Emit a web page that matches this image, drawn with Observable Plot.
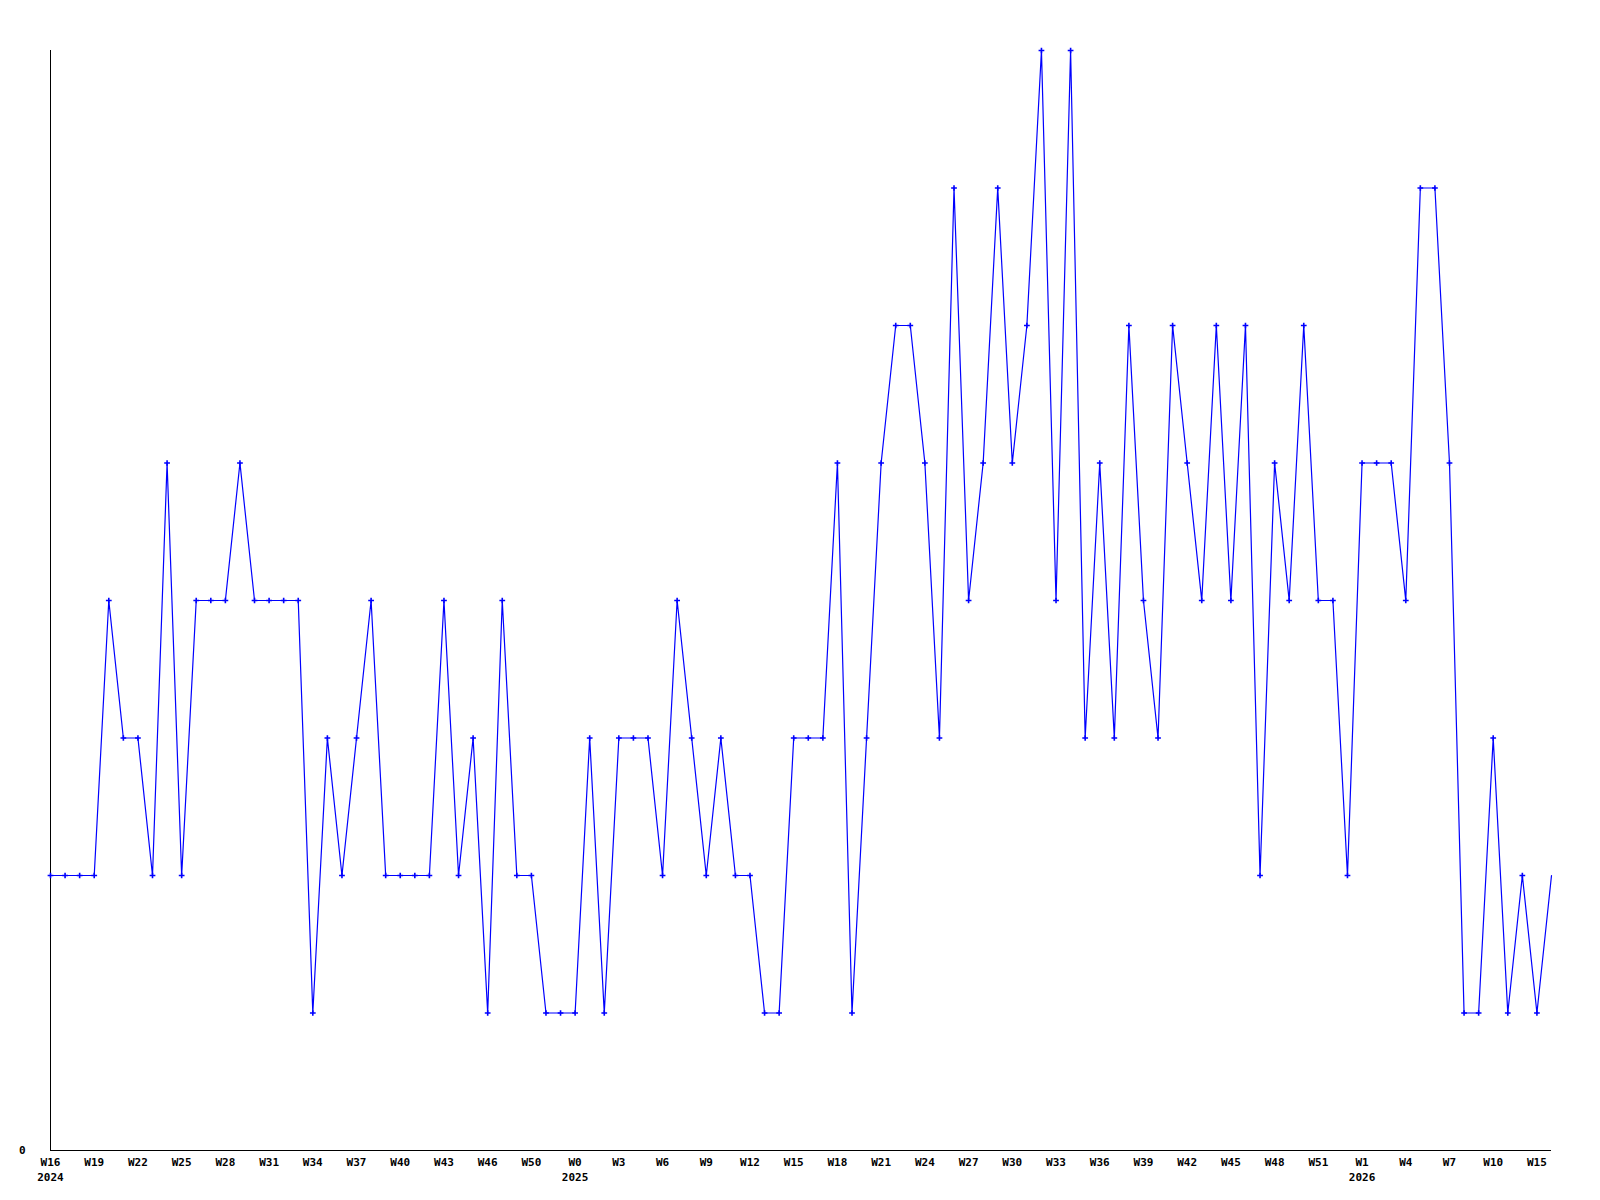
<!DOCTYPE html>
<html>
<head>
<meta charset="utf-8">
<script src="https://cdn.jsdelivr.net/npm/d3@7"></script>
<script src="https://cdn.jsdelivr.net/npm/@observablehq/plot@0.6"></script>
<style>
  html, body { margin: 0; padding: 0; background: #fff; }
  #chart svg { display: block; }
</style>
</head>
<body>
<div id="chart"></div>
<script>
// Weekly values, W16 2024 .. W15 2026 (104 weeks)
const values = [
  2, 2, 2, 2, 4, 3, 3, 2, 5, 2,
  4, 4, 4, 5, 4, 4, 4, 4, 1, 3,
  2, 3, 4, 2, 2, 2, 2, 4, 2, 3,
  1, 4, 2, 2, 1, 1, 1, 3, 1, 3,
  3, 3, 2, 4, 3, 2, 3, 2, 2, 1,
  1, 3, 3, 3, 5, 1, 3, 5, 6, 6,
  5, 3, 7, 4, 5, 7, 5, 6, 8, 4,
  8, 3, 5, 3, 6, 4, 3, 6, 5, 4,
  6, 4, 6, 2, 5, 4, 6, 4, 4, 2,
  5, 5, 5, 4, 7, 7, 5, 1, 1, 3,
  1, 2, 1, 2
];

// Week tick labels, one every 3rd week
const weekLabels = [
  "W16", "W19", "W22", "W25", "W28", "W31", "W34", "W37", "W40", "W43",
  "W46", "W50", "W0", "W3", "W6", "W9", "W12", "W15", "W18", "W21",
  "W24", "W27", "W30", "W33", "W36", "W39", "W42", "W45", "W48", "W51",
  "W1", "W4", "W7", "W10", "W15"
];
const tickStep = 3;

// Year labels and the week index where they appear
const yearLabels = ["2024", "2025", "2026"];
const yearIndex = [0, 36, 90];

const yTicks = [0];
const yMax = 8;

const data = values.map((v, i) => ({i, v}));
const weekTicks = weekLabels.map((_, k) => k * tickStep);

const font = "'DejaVu Sans Mono', monospace";

const chart = Plot.plot({
  width: 1600,
  height: 1200,
  marginLeft: 50,
  marginRight: 49,
  marginTop: 50,
  marginBottom: 50,
  style: {fontFamily: font, fontSize: "11px", fontWeight: "bold", color: "#000", background: "#fff"},
  x: {domain: [0, values.length - 1], axis: null, label: null},
  y: {domain: [0, yMax], axis: null, label: null},
  marks: [
    Plot.axisY({ticks: yTicks, tickSize: 0, tickPadding: 25, label: null, tickFormat: d => String(d), fontWeight: "bold", fill: "#000"}),
    Plot.axisX({ticks: weekTicks, tickSize: 0, tickPadding: 8, label: null, tickFormat: d => weekLabels[d / tickStep], fontWeight: "bold", fill: "#000"}),
    Plot.axisX({ticks: yearIndex, tickSize: 0, tickPadding: 23, label: null, tickFormat: d => yearLabels[yearIndex.indexOf(d)], fontWeight: "bold", fill: "#000"}),
    Plot.ruleX([0], {y1: 0, y2: yMax, stroke: "#000", strokeWidth: 1}),
    Plot.ruleY([0], {stroke: "#000", strokeWidth: 1}),
    Plot.line(data, {x: "i", y: "v", stroke: "#0000ff", strokeWidth: 1.2, curve: "linear"}),
    Plot.dot(data.slice(0, -1), {x: "i", y: "v", symbol: "plus", r: 2, stroke: "#0000ff", strokeWidth: 1.6})
  ]
});

document.getElementById("chart").appendChild(chart);
</script>
</body>
</html>
